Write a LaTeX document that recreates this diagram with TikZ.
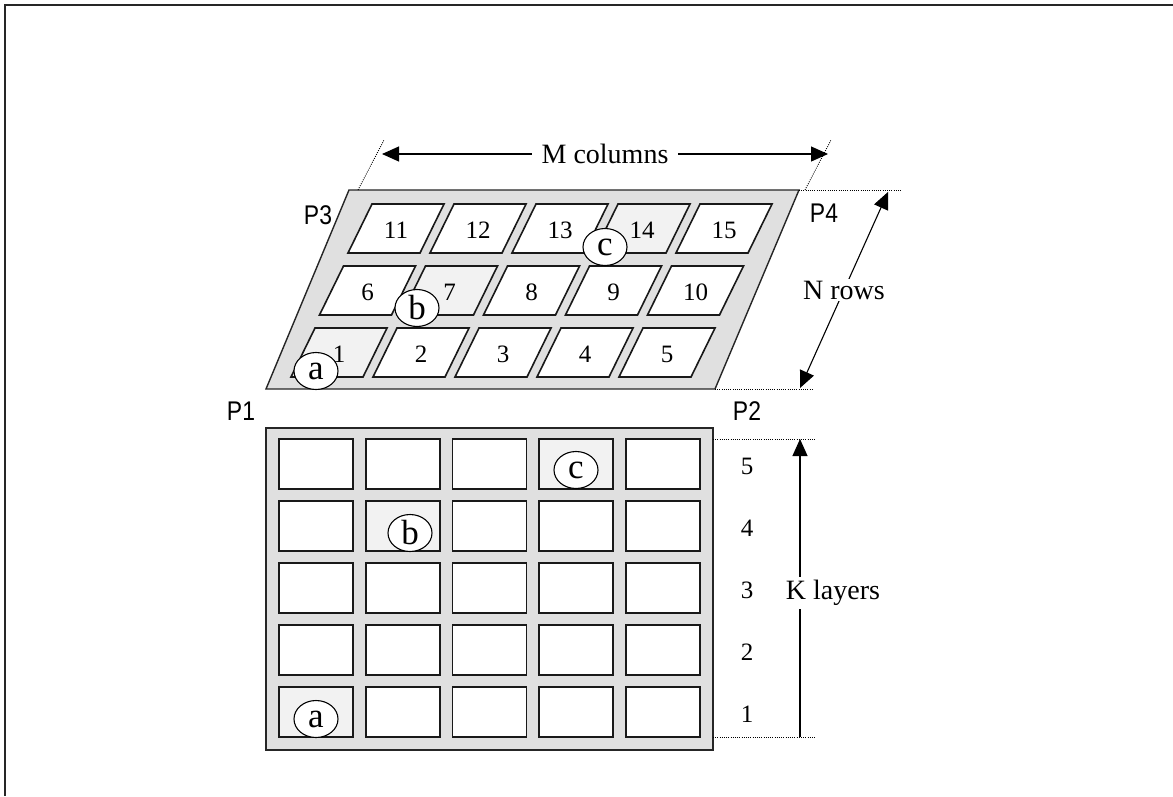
\documentclass[tikz,border=0pt]{standalone}
\usepackage{fontspec}
\setmainfont{Liberation Serif}
\newfontfamily\cornerfont{Liberation Sans}
\usetikzlibrary{arrows.meta}
\usetikzlibrary{shapes.geometric}

\tikzset{
  slab/.style={draw=black!85,line width=1.4pt,fill=black!12},
  cell/.style={draw=black!90,line width=1.6pt,fill=white},
  hitcell/.style={cell,fill=black!5},
  num/.style={inner sep=0pt,font=\fontsize{25}{28}\selectfont},
  tag/.style={ellipse,draw,line width=1.1pt,fill=white,inner sep=0pt,
    minimum width=44pt,minimum height=37pt,font=\fontsize{35}{36}\selectfont},
  corner/.style={inner sep=0pt,xscale=0.85,font=\cornerfont\fontsize{27}{30}\selectfont},
  dimtext/.style={fill=white,inner sep=3pt,font=\fontsize{28}{30}\selectfont},
  dimline/.style={line width=1.1pt,{Triangle[length=17pt,width=15pt]}-{Triangle[length=17pt,width=15pt]}},
  uparrow/.style={line width=1.1pt,-{Triangle[length=17pt,width=15pt]}},
  guide/.style={line width=0.9pt,dash pattern=on 0.9pt off 1.3pt},
}

\begin{document}
\begin{tikzpicture}[x=1pt,y=-1pt]
  \useasboundingbox (0,0) rectangle (1173,796);
  % frame lines of the figure
  \coordinate (fTR) at (1173,5);
  \coordinate (fTL) at (5,5);
  \coordinate (fBL) at (5,796);
  \draw[line width=2pt,black!85] (fTR) -- (fTL) -- (fBL);

  % top view: the slanted plate with N x M cells
  \coordinate (P1c) at (266,389);
  \coordinate (P2c) at (715,389);
  \coordinate (P4c) at (799,190);
  \coordinate (P3c) at (349,190);
  \draw[slab] (P1c) -- (P2c) -- (P4c) -- (P3c) -- cycle;
  \foreach \r in {0,1,2}{
    \foreach \c in {0,...,4}{
      \pgfmathtruncatemacro{\n}{1+\c+5*\r}
      \pgfmathsetmacro{\x}{315+28.5*\r+82*\c}
      \pgfmathsetmacro{\y}{328-62*\r}
      \def\cellstyle{cell}
      \ifnum\n=1 \def\cellstyle{hitcell}\fi
      \ifnum\n=7 \def\cellstyle{hitcell}\fi
      \ifnum\n=14 \def\cellstyle{hitcell}\fi
      \draw[\cellstyle] (\x,\y) -- ++(72,0) -- ++(-24,49) -- ++(-72,0) -- cycle;
      \node[num] (n\n) at (\x+24,\y+26) {\n};
    }
  }
  \node[tag] (ta) at (316,371) {a};
  \node[tag] (tb) at (417,308) {b};
  \node[tag] (tc) at (605,247) {c};

  \node[corner] (P3) at (318,215) {P3};
  \node[corner] (P4) at (824,213) {P4};
  \node[corner] (P1) at (241,411) {P1};
  \node[corner] (P2) at (747,411) {P2};

  % M columns
  \coordinate (mLa) at (358,190);
  \coordinate (mLb) at (384,140);
  \coordinate (mRa) at (805,190);
  \coordinate (mRb) at (831,140);
  \draw[guide] (mLa) -- (mLb);
  \draw[guide] (mRa) -- (mRb);
  \coordinate (mL) at (382,154);
  \coordinate (mR) at (828,154);
  \draw[dimline] (mL) -- node[dimtext,inner xsep=10pt] (mtext) {M columns} (mR);

  % N rows
  \coordinate (nTa) at (799,190);
  \coordinate (nTb) at (902,190);
  \coordinate (nBa) at (715,389);
  \coordinate (nBb) at (813,389);
  \draw[guide] (nTa) -- (nTb);
  \draw[guide] (nBa) -- (nBb);
  \coordinate (nB) at (800,388);
  \coordinate (nT) at (888,192);
  \draw[dimline] (nB) -- node[dimtext,inner sep=2pt] (ntext) {N rows} (nT);

  % side view: K layers x M columns
  \draw[slab] (266,428) rectangle (713,750);
  \foreach \c in {0,...,4}{
    \foreach \l in {1,...,5}{
      \pgfmathsetmacro{\x}{279+86.75*\c}
      \pgfmathsetmacro{\y}{687-62*(\l-1)}
      \def\cellstyle{cell}
      \ifnum\c=0 \ifnum\l=1 \def\cellstyle{hitcell}\fi\fi
      \ifnum\c=1 \ifnum\l=4 \def\cellstyle{hitcell}\fi\fi
      \ifnum\c=3 \ifnum\l=5 \def\cellstyle{hitcell}\fi\fi
      \draw[\cellstyle] (\x,\y) rectangle ++(74,50);
    }
  }
  \foreach \l in {1,...,5}{
    \node[num] (k\l) at (747,{714-62*(\l-1)}) {\l};
  }
  \node[tag] (sa) at (316,719) {a};
  \node[tag] (sb) at (410,533) {b};
  \node[tag] (sc) at (576,470) {c};

  % K layers
  \coordinate (kTa) at (713,439);
  \coordinate (kTb) at (815,439);
  \coordinate (kBa) at (713,737);
  \coordinate (kBb) at (815,737);
  \draw[guide] (kTa) -- (kTb);
  \draw[guide] (kBa) -- (kBb);
  \coordinate (kB) at (800,737);
  \coordinate (kT) at (800,439);
  \draw[uparrow] (kB) -- (kT);
  \node[dimtext,inner sep=3pt] (ktext) at (833,593) {K layers};
\end{tikzpicture}
\end{document}
